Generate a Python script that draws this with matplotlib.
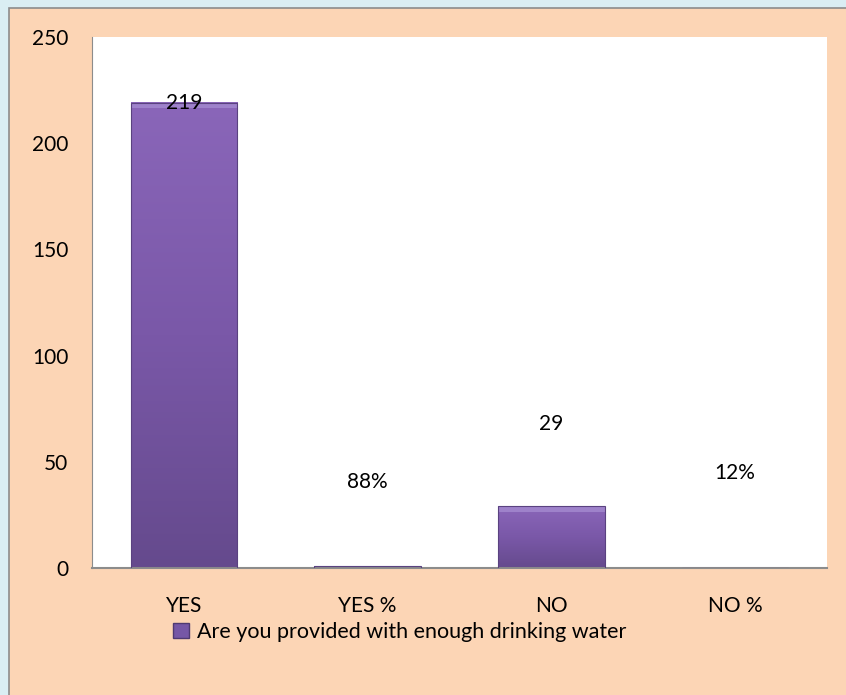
import numpy as np
import matplotlib.pyplot as plt
from matplotlib.patches import Rectangle
from matplotlib.colors import LinearSegmentedColormap

categories = ['YES', 'YES %', 'NO', 'NO %']
values = [219, 0.88, 29, 0.12]
labels = ['219', '88%', '29', '12%']
label_heights = [219, 40.5, 68, 44.5]
series_name = 'Are you provided with enough drinking water'

plt.rcParams['font.family'] = ['Lato', 'DejaVu Sans']

fig = plt.figure(figsize=(8.46, 6.95), dpi=100, facecolor='#DAEEF3')
# peach chart area with thin grey frame
fig.patches.append(Rectangle((9 / 846, -0.01), 1.0, 1 - 8 / 695 + 0.01, transform=fig.transFigure,
                             facecolor='#FCD5B5', edgecolor='#8C8C8C', linewidth=1.2, zorder=-10))

ax = fig.add_axes([92 / 846, 1 - 568 / 695, 735 / 846, 531 / 695])
ax.set_facecolor('white')

cmap = LinearSegmentedColormap.from_list('purp', ['#654A8D', '#7A58A8', '#8A66B9'])
grad = np.linspace(0, 1, 256).reshape(-1, 1)
width = 0.58
x = np.arange(len(categories))
bars = ax.bar(x, values, width=width, color='none', edgecolor='#5A4280', linewidth=0.8, zorder=3)
for b in bars:
    x0, y0 = b.get_x(), b.get_y()
    w, h = b.get_width(), b.get_height()
    ax.imshow(grad, cmap=cmap, origin='lower', aspect='auto',
              extent=(x0, x0 + w, y0, y0 + h), zorder=2)
    # light bevel along the top
    if h > 5:
        ax.add_patch(Rectangle((x0, y0 + h - 2.5), w, 2.5, facecolor='#A48AD0',
                               edgecolor='none', alpha=0.8, zorder=2.5))
ax.set_xlim(-0.5, 3.5)
ax.set_ylim(0, 250)

for xi, lab, hy in zip(x, labels, label_heights):
    ax.text(xi, hy, lab, ha='center', va='center', fontsize=15, color='black', zorder=4)

ax.set_xticks(x)
ax.set_xticklabels(categories, fontsize=15)
ax.set_yticks(np.arange(0, 251, 50))
ax.tick_params(axis='y', length=0, labelsize=15, pad=17)
ax.tick_params(axis='x', length=0, pad=20)
for s in ['top', 'right']:
    ax.spines[s].set_visible(False)
ax.spines['left'].set_color('#8C8C8C')
ax.spines['bottom'].set_color('#8C8C8C')
ax.spines['bottom'].set_linewidth(1.5)

handle = Rectangle((0, 0), 1, 1, facecolor='#7657A6', edgecolor='#4F3A72')
fig.legend([handle], [series_name], loc='center', bbox_to_anchor=(400 / 846, 1 - 632 / 695),
           frameon=False, fontsize=15.5, handlelength=0.7, handleheight=0.7, handletextpad=0.4)

fig.savefig('out.png', dpi=100, facecolor=fig.get_facecolor())
